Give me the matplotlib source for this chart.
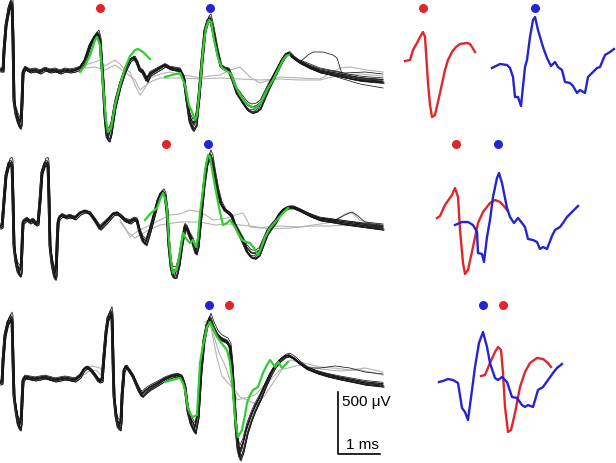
import numpy as np
import matplotlib.pyplot as plt

plt.rcParams['font.family'] = ['Liberation Sans', 'DejaVu Sans']

FS = 42.0  # samples per ms
RED = '#e0262a'
BLUE = '#2424d0'
GREEN = '#33cc33'
GRAY = '#b4b4b4'

# ---- traces: (sample, uV) ----
# row 1
r1_black = [(-5, 0), (-2, 0), (-1, 160), (1, 360), (4, 496), (6, 544), (7, 520), (8, 240), (9, -240),
            (11, -344), (13, -400), (15, -440), (16, -416), (17, -240), (18, -16), (20, 16), (25, -8),
            (30, 0), (35, -16), (40, 8),
            (45, -8), (50, 0), (55, -16), (60, 0), (65, -8), (70, 0), (75, 16), (80, 80), (85, 200),
            (90, 272), (93, 296), (95, 240), (98, -80), (100, -360), (102, -520), (104, -536), (106, -480),
            (110, -280), (115, -120), (120, 0), (125, 80), (129, 104), (132, 64), (135, 0), (138, -16),
            (142, -80), (145, -32), (150, -8), (155, 16), (160, 40), (165, 16), (170, 8), (175, 0),
            (179, -64), (182, -240), (185, -400), (188, -456), (191, -416), (194, -200), (197, 80),
            (200, 320), (203, 400), (205, 416), (208, 320), (212, 160), (216, 32), (220, 8), (224, 0),
            (228, -80), (232, -176), (236, -224), (240, -272), (243, -304), (247, -320), (251, -312),
            (255, -288), (259, -216), (263, -144), (267, -80), (272, 0), (277, 80), (281, 128), (284, 136),
            (288, 104), (295, 64), (305, 24), (315, -8), (325, -24), (335, -40), (345, -56), (355, -72),
            (365, -80), (378, -88)]
r1_black_tails = [
    [(295, 64), (303, 120), (308, 144), (318, 144), (328, 120), (332, 96), (338, -56), (350, -80),
     (365, -80), (378, -96)],
    [(295, 64), (315, -16), (335, -64), (355, -112), (378, -144)],
    [(295, 80), (315, 16), (340, -24), (360, -16), (378, -32)],
]
r1_gray = [
    [(80, 40), (90, 64), (95, 80), (100, 32), (105, 56), (110, 80), (115, 48), (120, 0), (125, -16),
     (130, -120), (135, -200), (140, -144), (145, -64), (155, -32), (165, -16), (175, -40), (185, -48),
     (195, -64), (205, -48), (215, -40), (225, 0), (235, 24), (240, -16), (245, -56), (255, -104),
     (265, -80), (275, -56), (295, -64), (315, -72), (335, 16), (345, 24), (362, 0), (378, -16)],
    [(80, 16), (90, 24), (100, 0), (110, 40), (120, -16), (130, -80), (135, -160), (145, -96),
     (155, -64), (175, -64), (195, -72), (215, -64), (235, -72), (255, -80), (275, -72), (295, -80),
     (315, -80), (335, -40), (355, -32), (378, -48)],
]
r1_green = [(75, -16), (80, 32), (85, 120), (90, 240), (92, 264), (95, 200), (98, -120), (101, -400),
            (103, -496), (106, -464), (110, -280), (115, -120), (120, 16), (125, 112), (130, 160),
            (133, 168), (138, 144), (142, 112), (145, 88), (np.nan, np.nan),
            (160, -56), (167, -40), (175, -24), (180, -120), (184, -280), (187, -336), (190, -400),
            (192, -360), (195, -120), (198, 160), (201, 336), (204, 400), (206, 384), (209, 240),
            (213, 96), (217, 16), (222, -8), (226, -32), (230, -120), (235, -200), (240, -256),
            (245, -288), (250, -304), (254, -280), (258, -224), (263, -144), (268, -80), (273, 0),
            (278, 80), (281, 112), (284, 120)]

# row 2
r2_black = [(-5, -56), (-3, -48), (-1, 160), (1, 360), (4, 456), (6, 464), (7, 440), (8, 160), (9, -200),
            (11, -330), (13, -400), (15, -424), (16, -400), (17, -200), (18, -16), (22, 8), (25, -16),
            (28, 0), (31, -32), (33, -24),
            (35, 160), (37, 384), (40, 456), (42, 464), (43, 440), (44, 160), (45, -200), (47, -340),
            (49, -420), (50, -448), (51, -420), (52, -200), (53, -20), (54, 16), (57, 40), (61, 24),
            (65, 32), (70, 16), (75, 56), (80, 72), (85, 56),
            (90, 0), (95, -64), (99, -32), (103, 0), (108, 48), (112, 56), (116, 32), (120, 0), (125, -16),
            (129, 8), (132, 0), (135, -96), (138, -160), (141, -184), (145, -80), (149, 40), (153, 160),
            (156, 216), (158, 232), (160, 200), (162, 80), (164, -200), (166, -360), (168, -432),
            (171, -432), (174, -336), (177, -176), (180, -48), (182, -64), (185, -128), (188, -176),
            (191, -256), (193, -200), (196, 40), (199, 280), (202, 456), (205, 520), (207, 480),
            (210, 344), (213, 224), (216, 136), (220, 80), (224, 56), (227, 32), (230, -40), (234, -104),
            (238, -168), (242, -240), (246, -280), (250, -288), (254, -264), (258, -184), (262, -104),
            (266, -56), (270, -16), (274, 40), (278, 80), (283, 104), (288, 104), (295, 80), (305, 40),
            (315, 8), (328, -8), (340, -24), (355, -40), (378, -64)]
r2_black_tails = [
    [(328, -8), (340, 40), (347, 64), (353, 32), (360, -16), (378, -32)],
    [(315, 16), (335, 0), (355, -24), (378, -48)],
]
r2_gray = [
    [(115, -16), (120, -64), (125, -136), (130, -104), (135, -80), (145, -40), (155, 0), (165, 40),
     (175, 48), (185, 80), (195, 64), (202, 32), (208, 0), (215, 8), (222, 16), (230, 40), (238, 56),
     (242, 0), (245, -56), (255, -64), (262, -56), (275, -48), (295, -56), (315, -32), (328, -16),
     (340, 48), (345, 64), (351, 32), (355, 0), (365, -24), (378, -40)],
    [(115, 0), (123, -96), (130, -144), (140, -96), (155, -40), (175, -16), (195, -16), (210, -40),
     (225, -32), (245, -48), (265, -72), (285, -64), (305, -48), (325, -48), (345, -40), (360, -48),
     (378, -56)],
]
r2_green = [(140, 0), (145, 48), (152, 96), (156, 184), (158, 216), (160, 176), (162, 96), (164, -160),
            (166, -336), (168, -424), (171, -400), (173, -344), (176, -200), (178, -104), (180, -136),
            (183, -168), (185, -184), (188, -160), (191, -216), (193, -144), (195, 56), (198, 240),
            (200, 400), (203, 520), (205, 504), (208, 360), (212, 184), (215, 64), (218, -40), (222, -24),
            (225, 0), (230, -56), (233, -104), (237, -160), (241, -176), (245, -184), (249, -224),
            (253, -280), (256, -224), (260, -136), (265, -64), (272, 0), (278, 56), (283, 96)]

# row 3
r3_black = [(-5, -40), (-3, -32), (-2, 144), (0, 344), (3, 448), (6, 488), (7, 464), (8, 144), (9, -136),
            (11, -256), (13, -352), (15, -392), (16, -352), (17, -176), (18, -16), (20, 8), (30, -8),
            (40, 8), (50, -16), (60, 0),
            (70, -16), (75, 16), (79, 72), (82, 88), (86, 64), (90, 24), (94, -24), (97, -16), (99, 184),
            (101, 368), (103, 480), (106, 528), (107, 480), (108, 144), (109, -136), (111, -296),
            (113, -376), (115, -392), (116, -336), (117, -136), (119, 64), (121, 96), (124, 64), (128, 16),
            (131, -40), (134, -96),
            (137, -136), (140, -112), (145, -80), (152, -48), (160, -8), (167, 16), (173, 24), (177, 8),
            (180, -64), (183, -256), (186, -352), (190, -416), (193, -296), (196, 64), (199, 304),
            (202, 424), (205, 480), (208, 416), (212, 352), (216, 320), (222, 296), (225, 256), (227, 104),
            (229, -136), (231, -376), (233, -552), (235, -616), (238, -552), (242, -416), (246, -320),
            (250, -240), (255, -160), (260, -64), (265, 24), (270, 96), (275, 144), (280, 176), (284, 184),
            (289, 160), (295, 120), (302, 80), (312, 48), (322, 24), (335, 0), (345, -16), (360, -40),
            (378, -56)]
r3_black_tails = [
    [(302, 80), (315, 80), (330, 96), (345, 80), (360, 48), (378, 32)],
]
r3_gray = [
    [(70, -8), (75, 32), (80, 72), (87, 96), (95, 80), (99, 48), (np.nan, np.nan),
     (200, 424), (205, 448), (212, 160), (217, 16), (223, -40), (230, -96), (235, -152), (242, -176),
     (252, -216), (260, -136), (270, -16), (280, 104), (285, 144), (295, 128), (315, 88), (328, 80),
     (345, 64), (360, 80), (378, 48)],
    [(75, 8), (83, 48), (91, 64), (97, 16), (np.nan, np.nan),
     (200, 448), (205, 464), (210, 304), (215, 184), (220, 104), (225, -16), (232, -176), (240, -160),
     (250, -136), (260, -56), (275, 64), (295, 104), (315, 72), (335, 56), (355, 64), (378, 24)],
]
r3_green = [(160, -32), (167, -16), (175, 0), (178, -40), (180, -96), (183, -240), (186, -296),
            (188, -312), (192, -296), (195, 120), (198, 264), (200, 328), (202, 408), (205, 448),
            (208, 400), (212, 328), (218, 264), (222, 224), (225, 128), (227, -16), (230, -312),
            (233, -472), (237, -416), (240, -296), (242, -200), (245, -136), (248, -96), (253, -72),
            (258, 40), (262, 104), (265, 144), (268, 112), (270, 88), (273, 128), (277, 80), (280, 104),
            (283, 128)]

# right column: averaged units
r1_red = [(10, 72), (15, 80), (18, 160), (22, 216), (25, 264), (28, 304), (30, 264), (33, -104), (35, -280),
          (37, -376), (40, -360), (45, -184), (50, 0), (53, 80), (57, 144), (61, 184), (65, 208), (72, 216),
          (75, 208), (77, 184), (80, 144)]
r1_blue = [(97, 16), (105, 48), (112, 40), (115, 16), (118, -56), (120, -216), (123, -216), (126, -288),
           (130, 24), (132, 80), (135, 264), (138, 400), (140, 424), (143, 320), (148, 184), (152, 96),
           (156, 32), (160, 64), (163, 24), (167, 0), (170, -96), (175, -104), (178, -128), (182, -184),
           (185, -160), (190, -184), (193, -56), (197, -24), (202, 16), (205, 24), (210, 120), (215, 144),
           (219, 168)]
r2_red = [(42, 16), (45, 32), (50, 120), (57, 200), (60, 256), (63, 184), (65, -80), (68, -344), (70, -432),
          (73, -400), (78, -216), (83, -24), (88, 64), (95, 136), (100, 160), (105, 144), (108, 120),
          (112, 80)]
r2_blue = [(60, -40), (67, -16), (73, -16), (78, -40), (82, -96), (83, -264), (87, -272), (89, -336),
           (92, -136), (95, 0), (98, 184), (102, 336), (104, 376), (107, 296), (112, 96), (115, 24),
           (119, -24), (123, 16), (127, -24), (130, -56), (133, -152), (138, -160), (142, -176), (145, -232),
           (148, -216), (152, -232), (157, -128), (160, -80), (165, -56), (168, -24), (172, 24), (177, 64),
           (183, 112)]
r3_blue = [(44, -32), (48, -24), (53, -8), (58, -16), (63, -40), (67, -240), (70, -272), (73, -336),
           (77, -96), (80, 88), (84, 280), (88, 368), (92, 248), (95, 120), (100, 0), (103, -16), (107, 8),
           (112, -32), (117, -152), (122, -160), (127, -216), (130, -232), (133, -216), (138, -232),
           (143, -96), (148, -72), (153, -16), (158, 40), (162, 80), (167, 112)]
r3_red = [(86, 16), (90, 24), (95, 120), (100, 208), (103, 248), (106, 224), (108, 40), (110, -232),
          (113, -432), (116, -416), (120, -280), (125, -72), (130, 48), (135, 120), (142, 160), (148, 152),
          (153, 120), (156, 88)]

# spike times of the two units (samples), left and right column
dot_left = [[(95, RED), (205, BLUE)], [(161, RED), (203, BLUE)], [(204, BLUE), (224, RED)]]
dot_right = [[(28, RED), (140, BLUE)], [(61, RED), (103, BLUE)], [(88, BLUE), (108, RED)]]

# trial-to-trial variability of black sweeps: (shift in samples, gain, offset uV)
trial_shift = [-1, 0, 0, 0, 1, 1, 0, -1, 0, 1]
trial_gain = [1.0, 0.94, 1.05, 0.9, 1.0, 1.08, 0.97, 1.02, 0.93, 1.04]
trial_offset = [0, 8, -8, 16, -16, 0, 8, -8, 0, -16]

# layout
row_base = [3144, 1944, 680]   # uV baseline of each row
dot_height = [496, 608, 584]
right_x0 = 390                 # samples offset for right column

fig = plt.figure(figsize=(6.16, 4.63), dpi=100)
ax = fig.add_axes([0, 0, 1, 1])
ax.set_xlim(-5 / FS, 611 / FS)
ax.set_ylim(0, 463 * 8)
ax.axis('off')


def arr(tr):
    return np.array(tr, dtype=float)


rows = [
    (r1_black, r1_black_tails, r1_gray, r1_green, r1_red, r1_blue),
    (r2_black, r2_black_tails, r2_gray, r2_green, r2_red, r2_blue),
    (r3_black, r3_black_tails, r3_gray, r3_green, r3_red, r3_blue),
]

for i, (blk, tails, grays, grn, red, blue) in enumerate(rows):
    b = row_base[i]
    for g in grays:
        a = arr(g)
        ax.plot(a[:, 0] / FS, a[:, 1] + b, color=GRAY, lw=0.8)
    a = arr(blk)
    for sh, gn, off in zip(trial_shift, trial_gain, trial_offset):
        ax.plot((a[:, 0] + sh) / FS, a[:, 1] * gn + off + b, color='#151515', lw=0.55)
    for tl in tails:
        t = arr(tl)
        ax.plot(t[:, 0] / FS, t[:, 1] + b, color='#151515', lw=0.55)
    a = arr(grn)
    ax.plot(a[:, 0] / FS, a[:, 1] + b, color=GREEN, lw=1.6)
    for tr, c in ((red, RED), (blue, BLUE)):
        a = arr(tr)
        ax.plot((a[:, 0] + right_x0) / FS, a[:, 1] + b, color=c, lw=1.7)
    for s, c in dot_left[i]:
        ax.plot(s / FS, b + dot_height[i], 'o', color=c, ms=6.5, mec='none')
    for s, c in dot_right[i]:
        ax.plot((s + right_x0) / FS, b + dot_height[i], 'o', color=c, ms=6.5, mec='none')

# scale bar: 500 uV, 1 ms
sb_x, sb_y = 7.93, 72
ax.plot([sb_x, sb_x, sb_x + 1], [sb_y + 500, sb_y, sb_y], color='black', lw=1.2)
ax.text(sb_x + 0.09, sb_y + 416, '500 μV', fontsize=11, va='center', ha='left')
ax.text(sb_x + 0.59, sb_y + 72, '1 ms', fontsize=11, va='center', ha='center')

plt.savefig('out.png', dpi=100)
